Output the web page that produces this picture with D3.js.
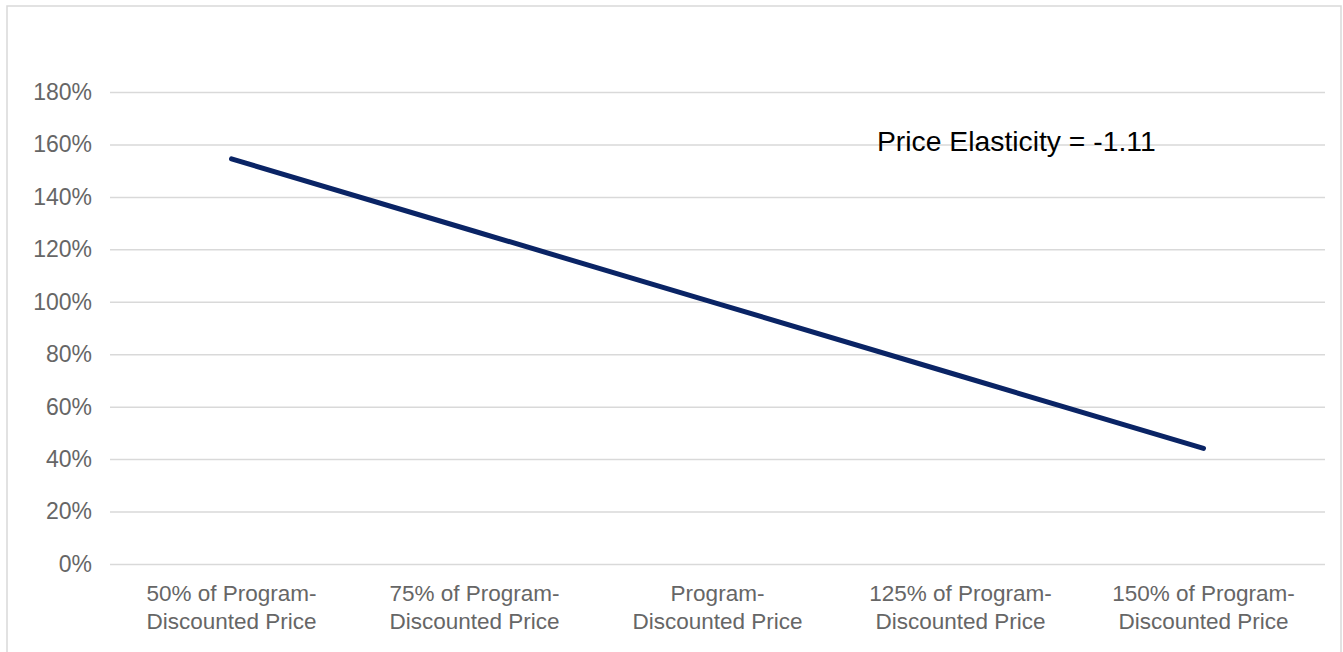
<!DOCTYPE html>
<html>
<head>
<meta charset="utf-8">
<script src="https://cdn.jsdelivr.net/npm/d3@7/dist/d3.min.js"></script>
<style>
  html, body { margin: 0; padding: 0; background: #fff; }
  svg { display: block; }
</style>
</head>
<body>
<svg id="chart" width="1343" height="652"></svg>
<script>
// Demand at each price point, as a share of demand at the program-discounted price
const categories = [
  ["50% of Program-", "Discounted Price"],
  ["75% of Program-", "Discounted Price"],
  ["Program-", "Discounted Price"],
  ["125% of Program-", "Discounted Price"],
  ["150% of Program-", "Discounted Price"]
];
const demandShare = [154.5, 126.9, 99.3, 71.7, 44.1];
const yTicks = [0, 20, 40, 60, 80, 100, 120, 140, 160, 180];
const annotation = "Price Elasticity = -1.11";

const svg = d3.select("#chart");
const W = 1343, H = 652;
const plot = { left: 110, right: 1325, top: 92, bottom: 564 };

// chart area frame
svg.append("rect")
  .attr("x", 7).attr("y", 6)
  .attr("width", 1334).attr("height", H)
  .attr("fill", "#fff")
  .attr("stroke", "#d9d9d9").attr("stroke-width", 1.5);

const x = d3.scaleBand()
  .domain(d3.range(categories.length))
  .range([plot.left, plot.right])
  .padding(0);

const y = d3.scaleLinear()
  .domain([0, 180])
  .range([plot.bottom, plot.top]);

const labelFont = "'Liberation Sans', Arial, sans-serif";

// horizontal gridlines with percent labels
const yAxis = d3.axisLeft(y)
  .tickValues(yTicks)
  .tickFormat(d => d + "%")
  .tickSize(-(plot.right - plot.left))
  .tickPadding(18);

const gy = svg.append("g")
  .attr("transform", `translate(${plot.left},0)`)
  .call(yAxis);
gy.select(".domain").remove();
gy.selectAll(".tick line")
  .attr("stroke", "#d9d9d9").attr("stroke-width", 1.5);
gy.selectAll(".tick text")
  .attr("fill", "#666")
  .style("font-family", labelFont)
  .style("font-size", "23px");

// category labels, two lines each
const xAxis = d3.axisBottom(x).tickSize(0).tickFormat("");
const gx = svg.append("g")
  .attr("transform", `translate(0,${plot.bottom})`)
  .call(xAxis);
gx.select(".domain").remove();
gx.selectAll(".tick").each(function(i) {
  const t = d3.select(this).append("text")
    .attr("text-anchor", "middle")
    .attr("fill", "#666")
    .style("font-family", labelFont)
    .style("font-size", "22.5px");
  categories[i].forEach((line, k) => {
    t.append("tspan").attr("x", 0).attr("y", 37 + k * 28).text(line);
  });
});

// demand line
const line = d3.line()
  .x((d, i) => x(i) + x.bandwidth() / 2)
  .y(d => y(d));

svg.append("path")
  .datum(demandShare)
  .attr("d", line)
  .attr("fill", "none")
  .attr("stroke", "#0a2465")
  .attr("stroke-width", 5)
  .attr("stroke-linecap", "round")
  .attr("stroke-linejoin", "round");

// elasticity note
svg.append("text")
  .attr("x", 877)
  .attr("y", 151)
  .attr("fill", "#000")
  .style("font-family", labelFont)
  .style("font-size", "28.3px")
  .text(annotation);
</script>
</body>
</html>
